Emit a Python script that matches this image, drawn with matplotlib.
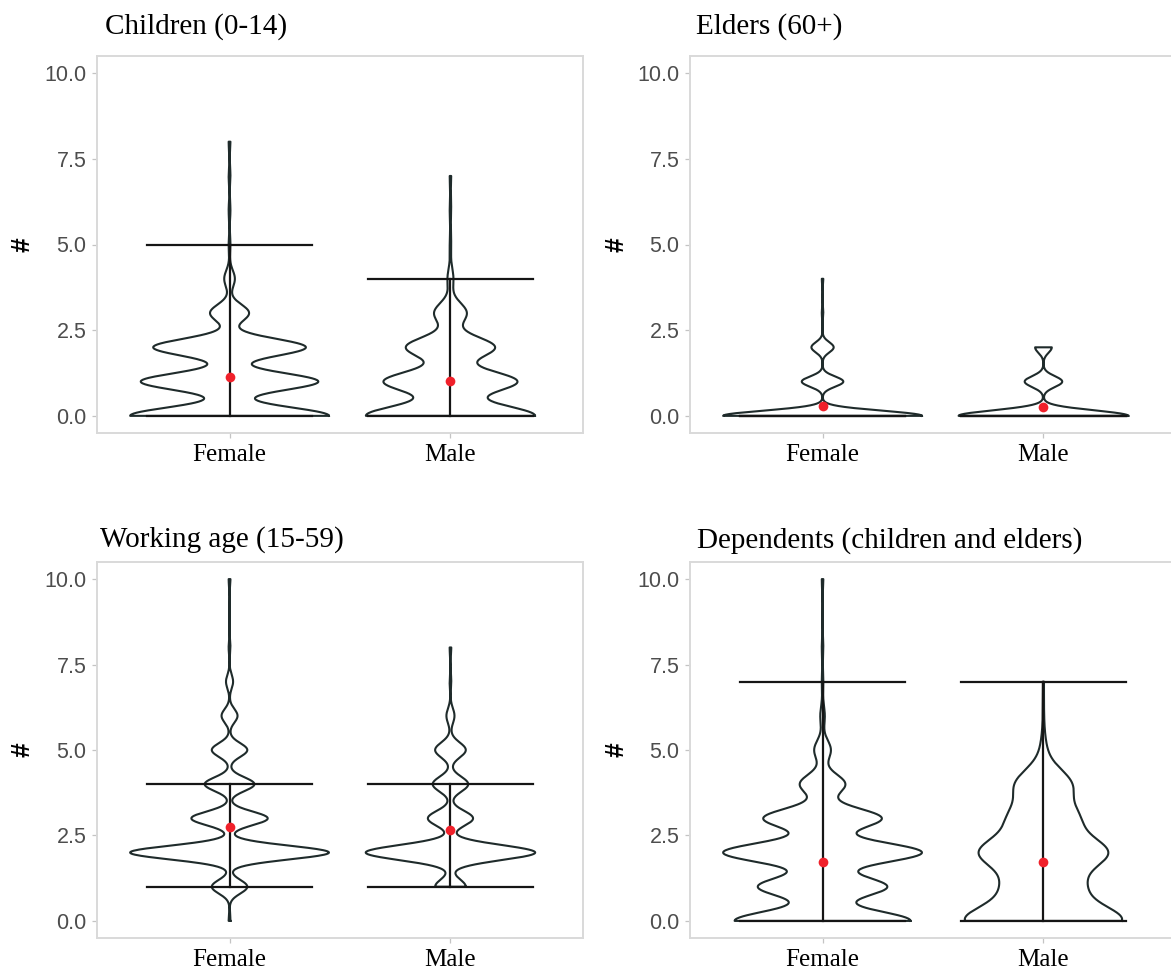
import numpy as np
import matplotlib.pyplot as plt

plt.rcParams['font.family'] = ['Liberation Sans', 'DejaVu Sans']

groups = ['Female', 'Male']
titles = ['Children (0-14)', 'Elders (60+)', 'Working age (15-59)',
          'Dependents (children and elders)']

# households by number of members in the group (index = number of members)
children_female = [112, 100, 86, 22, 6, 1, 1, 1, 1]
children_male = [114, 90, 60, 22, 4, 1, 1, 1]
elders_female = [134, 28, 15, 1, 1]
elders_male = [122, 27, 12]
working_female = [1, 20, 112, 43, 28, 20, 9, 4, 1, 0, 1]
working_male = [0, 19, 105, 28, 22, 19, 5, 1, 1]
dependents_female = [116, 85, 131, 78, 30, 11, 3, 1, 1, 0, 1]
dependents_male = [155, 68, 122, 63, 54, 5, 1, 1]

# kernel bandwidth of each violin (female, male)
bw_children = [0.25, 0.30]
bw_elders = [0.15, 0.16]
bw_working = [0.20, 0.22]
bw_dependents = [0.29, 0.45]

# group means (red dots)
mean_children = [1.12, 1.02]
mean_elders = [0.30, 0.27]
mean_working = [2.75, 2.66]
mean_dependents = [1.71, 1.73]

# error bar ends (low, high)
bar_children = [(0, 5), (0, 4)]
bar_elders = [(0, 0), (0, 0)]
bar_working = [(1, 4), (1, 4)]
bar_dependents = [(0, 7), (0, 7)]

panels = [
    ([children_female, children_male], bw_children, mean_children, bar_children),
    ([elders_female, elders_male], bw_elders, mean_elders, bar_elders),
    ([working_female, working_male], bw_working, mean_working, bar_working),
    ([dependents_female, dependents_male], bw_dependents, mean_dependents, bar_dependents),
]


def kde(counts, bw, grid):
    counts = np.asarray(counts, float)
    vals = np.arange(len(counts))
    z = (grid[:, None] - vals[None, :]) / bw
    return (counts * np.exp(-0.5 * z ** 2)).sum(axis=1) / (bw * np.sqrt(2 * np.pi))


W, H = 1171, 974
fig = plt.figure(figsize=(W / 100, H / 100), dpi=100)

# axes boxes in pixels: left, top, width, height
boxes = [(97, 56, 486, 377), (690, 56, 486, 377),
         (97, 562, 486, 376), (690, 562, 486, 376)]
title_pos = [(105, 33.5), (696, 33.5), (100, 547), (697, 548)]

outline = '#1f2b2b'
for i, (counts_list, bws, means, bars) in enumerate(panels):
    l, t, w, h = boxes[i]
    ax = fig.add_axes([l / W, 1 - (t + h) / H, w / W, h / H])

    dens = []
    for counts, bw in zip(counts_list, bws):
        nz = np.nonzero(counts)[0]
        grid = np.linspace(nz.min(), nz.max(), 600)
        dens.append((grid, kde(counts, bw, grid)))
    scale = 0.45 / max(d.max() for _, d in dens)

    for j, (grid, d) in enumerate(dens):
        c = j + 1
        half = d * scale
        xs = np.concatenate([c + half, (c - half)[::-1], [c + half[0]]])
        ys = np.concatenate([grid, grid[::-1], [grid[0]]])
        ax.plot(xs, ys, color=outline, lw=1.5, zorder=2)

        lo, hi = bars[j]
        ax.plot([c, c], [lo, hi], color='#151515', lw=1.6, zorder=3)
        ax.plot([c - 0.375, c + 0.375], [lo, lo], color='#151515', lw=1.6, zorder=3)
        ax.plot([c - 0.375, c + 0.375], [hi, hi], color='#151515', lw=1.6, zorder=3)

        ax.plot(c, means[j], 'o', color='#f0202a', ms=7, mec='none', zorder=4)

    ax.set_xlim(0.4, 2.6)
    ax.set_ylim(-0.5, 10.5)
    ax.set_xticks([1, 2])
    ax.set_xticklabels(groups, family='Liberation Serif', fontsize=18, color='black')
    ax.set_yticks([0, 2.5, 5, 7.5, 10])
    ax.set_yticklabels(['0.0', '2.5', '5.0', '7.5', '10.0'], fontsize=15.5, color='#4d4d4d')
    for sp in ax.spines.values():
        sp.set_color('#d9d9d9')
        sp.set_linewidth(1.4)
    ax.tick_params(axis='both', color='#c4c4c4', length=3.5, width=0.9)
    ax.tick_params(axis='y', pad=4)
    ax.tick_params(axis='x', pad=4.5)

    ax.set_ylabel('#', fontsize=19, fontweight='bold', rotation=90)
    ax.yaxis.label.set_va('center')
    ax.yaxis.set_label_coords(-74 / w, 0.5)

    tx, ty = title_pos[i]
    fig.text(tx / W, 1 - ty / H, titles[i], family='Liberation Serif',
             fontsize=21, va='baseline', ha='left')

fig.savefig('out.png', dpi=100)
